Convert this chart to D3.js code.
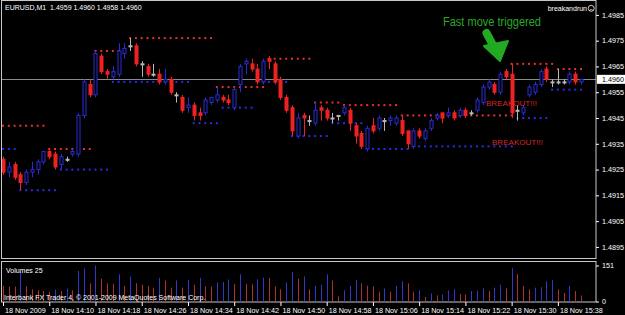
<!DOCTYPE html>
<html><head><meta charset="utf-8">
<script src="https://cdn.jsdelivr.net/npm/d3@7"></script>
<style>
html,body{margin:0;padding:0;background:#000;}
svg{display:block;}
text{font-family:"Liberation Sans",Arial,sans-serif;}
</style></head><body>
<svg id="c" width="625" height="315"></svg>
<script>
// ---- data (EURUSD M1, 18 Nov 2009 14:02 .. 15:42) ----
const opens = [1.4929,1.4924,1.4927,1.4923,1.4920,1.4924,1.4925,1.4928,1.4932,1.4931,
1.4927,1.4929,1.4931,1.4931,1.4946,1.4958,1.4954,1.4969,1.4963,1.4961,
1.4962,1.4970,1.4973,1.4973,1.4966,1.4965,1.4962,1.4962,1.4959,1.4960,
1.4954,1.4953,1.4949,1.4950,1.4947,1.4947,1.4951,1.4952,1.4953,1.4952,
1.4949,1.4958,1.4966,1.4966,1.4964,1.4959,1.4968,1.4966,1.4960,1.4953,
1.4949,1.4938,1.4946,1.4944,1.4943,1.4949,1.4948,1.4945,1.4946,1.4947,
1.4948,1.4942,1.4939,1.4933,1.4942,1.4941,1.4944,1.4944,1.4943,1.4944,
1.4940,1.4934,1.4940,1.4937,1.4941,1.4945,1.4947,1.4946,1.4947,1.4946,
1.4948,1.4947,1.4948,1.4951,1.4957,1.4958,1.4955,1.4963,1.4962,1.4948,
1.4947,1.4954,1.4955,1.4958,1.4964,1.4959,1.4959,1.4959,1.4959,1.4962,1.4959];
const highs = [1.4930,1.4928,1.4928,1.4924,1.4925,1.4928,1.4929,1.4932,1.4933,1.4932,
1.4931,1.4930,1.4933,1.4947,1.4960,1.4960,1.4971,1.4970,1.4964,1.4965,
1.4974,1.4974,1.4976,1.4974,1.4967,1.4966,1.4966,1.4964,1.4964,1.4961,
1.4955,1.4954,1.4953,1.4951,1.4949,1.4953,1.4953,1.4957,1.4954,1.4954,
1.4957,1.4966,1.4968,1.4968,1.4966,1.4968,1.4969,1.4967,1.4961,1.4954,
1.4950,1.4947,1.4947,1.4946,1.4951,1.4950,1.4949,1.4947,1.4946,1.4950,
1.4949,1.4943,1.4940,1.4942,1.4945,1.4946,1.4945,1.4946,1.4946,1.4946,
1.4940,1.4941,1.4941,1.4941,1.4945,1.4947,1.4947,1.4949,1.4948,1.4949,
1.4949,1.4948,1.4953,1.4958,1.4960,1.4959,1.4963,1.4964,1.4966,1.4950,
1.4950,1.4958,1.4959,1.4964,1.4965,1.4960,1.4964,1.4960,1.4963,1.4963,1.4960];
const lows = [1.4923,1.4922,1.4921,1.4917,1.4919,1.4922,1.4923,1.4927,1.4929,1.4925,
1.4925,1.4928,1.4930,1.4930,1.4945,1.4953,1.4953,1.4962,1.4960,1.4960,
1.4961,1.4968,1.4971,1.4965,1.4961,1.4961,1.4961,1.4958,1.4958,1.4954,
1.4951,1.4947,1.4947,1.4944,1.4944,1.4946,1.4950,1.4951,1.4951,1.4950,
1.4948,1.4955,1.4962,1.4963,1.4958,1.4958,1.4964,1.4958,1.4952,1.4947,
1.4938,1.4937,1.4938,1.4942,1.4942,1.4944,1.4944,1.4943,1.4944,1.4946,
1.4940,1.4935,1.4933,1.4932,1.4939,1.4940,1.4940,1.4942,1.4942,1.4938,
1.4933,1.4933,1.4937,1.4936,1.4940,1.4944,1.4943,1.4945,1.4944,1.4945,
1.4945,1.4946,1.4947,1.4950,1.4956,1.4954,1.4954,1.4960,1.4945,1.4944,
1.4946,1.4953,1.4954,1.4957,1.4959,1.4957,1.4958,1.4958,1.4958,1.4958,1.4958];
const closes = [1.4924,1.4926,1.4922,1.4920,1.4924,1.4925,1.4928,1.4932,1.4930,1.4926,
1.4930,1.4929,1.4932,1.4946,1.4959,1.4954,1.4970,1.4963,1.4962,1.4963,
1.4971,1.4972,1.4973,1.4966,1.4966,1.4962,1.4962,1.4959,1.4960,1.4955,
1.4954,1.4948,1.4950,1.4946,1.4946,1.4952,1.4953,1.4954,1.4952,1.4951,
1.4956,1.4965,1.4967,1.4964,1.4959,1.4967,1.4967,1.4959,1.4953,1.4948,
1.4940,1.4945,1.4945,1.4944,1.4948,1.4948,1.4945,1.4945,1.4946,1.4949,
1.4943,1.4938,1.4934,1.4941,1.4940,1.4945,1.4944,1.4945,1.4945,1.4939,
1.4935,1.4940,1.4938,1.4940,1.4944,1.4946,1.4945,1.4947,1.4945,1.4948,
1.4946,1.4947,1.4952,1.4957,1.4959,1.4955,1.4962,1.4961,1.4947,1.4948,
1.4949,1.4957,1.4958,1.4963,1.4960,1.4959,1.4959,1.4959,1.4962,1.4959,1.4960];
const volumes = [66,63,62,124,63,51,47,44,41,50,
44,55,47,128,139,76,151,95,76,73,
114,66,105,76,70,66,58,99,88,58,
88,58,91,70,99,63,62,80,82,92,
73,114,73,72,93,100,98,63,51,80,
124,95,105,51,66,70,114,88,22,47,
66,90,76,66,63,41,55,41,66,85,
76,41,47,19,34,26,29,47,51,31,
29,44,45,55,44,58,70,55,140,114,
66,51,58,60,85,90,51,36,66,44,25];
// breakout levels: price, first bar, last bar, kind
const levelPrice = [1.4942,1.4933,1.4933,1.4917,1.4925,1.4971,1.4959,1.4976,1.4943,1.4957,1.4949,1.4959,
  1.4968,1.4938,1.4951,1.4950,1.4943,1.4933,1.4934,1.4946,1.4966,1.4945,1.4964,1.4956];
const levelFrom  = [0,0,8,3,10,16,19,22,33,37,38,45, 46,50,54,59,57,63,71,69,88,89,96,95];
const levelTo    = [7,2,15,9,18,21,32,36,37,45,43,49, 53,56,58,68,62,70,88,88,95,94,100,100];
const levelKind  = ["r","s","r","s","s","r","s","r","s","r","s","s",
  "r","s","r","r","s","s","s","r","r","s","r","s"];
const tickIndex  = [0,8,16,24,32,40,48,56,64,72,80,88,96];
const tickLabels = ["18 Nov 2009","18 Nov 14:10","18 Nov 14:18","18 Nov 14:26","18 Nov 14:34","18 Nov 14:42",
  "18 Nov 14:50","18 Nov 14:58","18 Nov 15:06","18 Nov 15:14","18 Nov 15:22","18 Nov 15:30","18 Nov 15:38"];
const priceTicks = [1.4985,1.4975,1.4965,1.4955,1.4945,1.4935,1.4925,1.4915,1.4905,1.4895];
const volTicks = [0,151];
const lastPrice = 1.4960;

// ---- drawing ----
const svg = d3.select("#c");
const BLUE="#2b2bd8", RED="#ee2222", GRAY="#b8b8b8";
const x = d3.scaleLinear().domain([0,100]).range([3,581]);
const y = d3.scaleLinear().domain([1.48907,1.4990]).range([258,2]);
const yv = d3.scaleLinear().domain([0,151]).range([301.5,265.5]);

svg.append("rect").attr("width",625).attr("height",315).attr("fill","#000");
svg.append("defs").append("clipPath").attr("id","mc").append("rect")
  .attr("x",2).attr("y",1).attr("width",594).attr("height",257);
const main = svg.append("g").attr("clip-path","url(#mc)");

// current price line
main.append("line").attr("x1",2).attr("x2",596).attr("y1",Math.round(y(lastPrice))+0.5).attr("y2",Math.round(y(lastPrice))+0.5)
  .attr("stroke","#8a8a8a").attr("stroke-width",1);

// level dots
levelPrice.forEach((p,k)=>{
  const idx = d3.range(levelFrom[k], levelTo[k]+1);
  main.selectAll(null).data(idx).enter().append("rect")
    .attr("x",i=>x(i)-1).attr("y",y(p)-1).attr("width",2).attr("height",2)
    .attr("fill",levelKind[k]==="r"?"#e83030":"#2a2ae8");
});

const bars = d3.range(opens.length);
const col = i => closes[i]>opens[i]?BLUE:(closes[i]<opens[i]?RED:GRAY);
// wicks
main.selectAll(".wick").data(bars).enter().append("line")
  .attr("x1",i=>Math.round(x(i))+0.5).attr("x2",i=>Math.round(x(i))+0.5)
  .attr("y1",i=>y(highs[i])).attr("y2",i=>y(lows[i]))
  .attr("stroke",col).attr("stroke-width",1);
// bodies
main.selectAll(".body").data(bars).enter().append("rect")
  .attr("x",i=>Math.round(x(i))-1)
  .attr("y",i=>y(Math.max(opens[i],closes[i])))
  .attr("width",3)
  .attr("height",i=>Math.max(1,Math.abs(y(opens[i])-y(closes[i]))))
  .attr("fill",i=>closes[i]>opens[i]?"#000":col(i))
  .attr("stroke",col).attr("stroke-width",1);

// frames
svg.append("rect").attr("x",1.5).attr("y",0.5).attr("width",594.5).attr("height",258)
  .attr("fill","none").attr("stroke","#c8c8c8");
svg.append("rect").attr("x",1.5).attr("y",261.5).attr("width",594.5).attr("height",40.5)
  .attr("fill","none").attr("stroke","#c8c8c8");

// volumes
svg.selectAll(".vol").data(bars).enter().append("line")
  .attr("x1",i=>Math.round(x(i))+0.5).attr("x2",i=>Math.round(x(i))+0.5)
  .attr("y1",yv(0)).attr("y2",i=>yv(volumes[i]))
  .attr("stroke",i=>i>0&&volumes[i]>volumes[i-1]?"#3535c8":"#b03030").attr("stroke-width",1);

// axes
const txt = sel => sel.selectAll("text").attr("fill","#fff").style("font-size","7.2px").style("font-family","Liberation Sans, Arial, sans-serif");
const pa = svg.append("g").attr("transform","translate(596,0)")
  .call(d3.axisRight(y).tickValues(priceTicks).tickSize(3).tickPadding(3).tickFormat(d3.format(".4f")));
pa.select(".domain").remove(); pa.selectAll("line").attr("stroke","#fff"); txt(pa);
const va = svg.append("g").attr("transform","translate(596,0)")
  .call(d3.axisRight(yv).tickValues(volTicks).tickSize(3).tickPadding(3));
va.select(".domain").remove(); va.selectAll("line").attr("stroke","#fff"); txt(va);
const ta = svg.append("g").attr("transform","translate(0,302)")
  .call(d3.axisBottom(x).tickValues(tickIndex).tickSize(4).tickPadding(2).tickFormat((d,i)=>tickLabels[i]));
ta.select(".domain").remove(); ta.selectAll("line").attr("stroke","#fff"); txt(ta);
ta.selectAll("text").attr("text-anchor","start").attr("x",1.5);

// last price tag
const ly = y(lastPrice);
svg.append("rect").attr("x",597).attr("y",ly-4.5).attr("width",28).attr("height",9).attr("fill","#fff");
svg.append("text").attr("x",602).attr("y",ly+2.5).attr("fill","#000").style("font-size","7.2px").text(d3.format(".4f")(lastPrice));

// texts
svg.append("text").attr("x",5).attr("y",9.5).attr("fill","#fff").style("font-size","7px")
  .attr("xml:space","preserve").text("EURUSD,M1  1.4959 1.4960 1.4958 1.4960");
svg.append("text").attr("x",587).attr("y",10.5).attr("fill","#fff").style("font-size","7px")
  .attr("text-anchor","end").text("breakandrun");
svg.append("circle").attr("cx",591.2).attr("cy",8.3).attr("r",3).attr("fill","none").attr("stroke","#fff").attr("stroke-width",0.8);
svg.append("path").attr("d","M589.6,10.2 Q591.2,8.9 592.8,10.2").attr("fill","none").attr("stroke","#fff").attr("stroke-width",0.7);
svg.append("text").attr("x",6).attr("y",272.5).attr("fill","#fff").style("font-size","7px").text("Volumes 25");
svg.append("text").attr("x",4).attr("y",300).attr("fill","#fff").style("font-size","7px")
  .text("Interbank FX Trader 4, \u00a9 2001-2009 MetaQuotes Software Corp.");

svg.append("text").attr("x",443).attr("y",25.5).attr("fill","#2aa82a").style("font-size","13px")
  .attr("textLength",98).attr("lengthAdjust","spacingAndGlyphs").text("Fast move triggered");
svg.append("line").attr("x1",486.5).attr("y1",33).attr("x2",494).attr("y2",47)
  .attr("stroke","#22aa22").attr("stroke-width",8).attr("stroke-linecap","round");
svg.append("path").attr("d","M484,46 L508,41 L500,61 Z").attr("fill","#22aa22").attr("stroke","#22aa22")
  .attr("stroke-width",2).attr("stroke-linejoin","round");

svg.append("text").attr("x",486).attr("y",105.5).attr("fill","#d42828").style("font-size","7.5px")
  .attr("textLength",51).attr("lengthAdjust","spacingAndGlyphs").text("BREAKOUT!!!");
svg.append("text").attr("x",492).attr("y",144.5).attr("fill","#d42828").style("font-size","7.5px")
  .attr("textLength",51).attr("lengthAdjust","spacingAndGlyphs").text("BREAKOUT!!!");
</script>
</body></html>
